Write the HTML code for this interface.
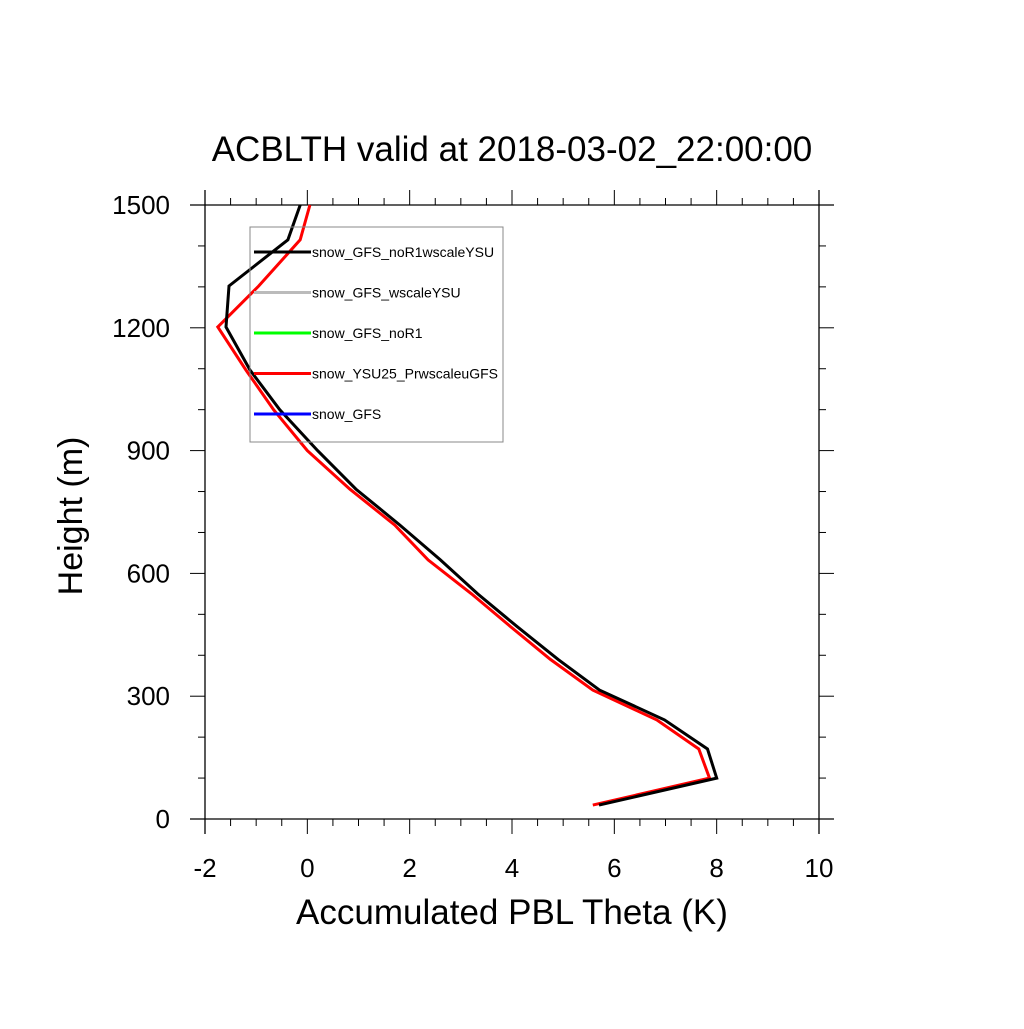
<!DOCTYPE html>
<html><head><meta charset="utf-8"><style>
body{margin:0;background:#fff}
svg text{font-family:"Liberation Sans",sans-serif}
</style></head><body>
<svg id="chart" width="1024" height="1024" xmlns="http://www.w3.org/2000/svg">
<rect width="1024" height="1024" fill="#fff"/>
<text x="512" y="161" font-size="35" text-anchor="middle">ACBLTH valid at 2018-03-02_22:00:00</text>
<text x="512" y="924" font-size="35" text-anchor="middle">Accumulated PBL Theta (K)</text>
<text transform="translate(82,516) rotate(-90)" font-size="34" text-anchor="middle">Height (m)</text>
<g id="axes"></g>
<g id="series"></g>
<g id="legend">
<rect x="250" y="227" width="253" height="215" fill="none" stroke="#888" stroke-width="1"/>
</g>
</svg>
<script>
const heights=[34,100,171,242,315,390,470,550,633,718,806,900,1000,1097,1202,1302,1415,1500];
const blackVals=[5.70,8.0,7.82,6.98,5.71,4.9,4.1,3.33,2.6,1.81,0.95,0.2,-0.54,-1.12,-1.59,-1.53,-0.38,-0.14];
const redVals=[5.58,7.86,7.65,6.83,5.58,4.75,3.97,3.21,2.36,1.71,0.83,0.0,-0.66,-1.2,-1.75,-0.95,-0.14,0.05];
const xTicks=[-2,0,2,4,6,8,10];
const yTicks=[0,300,600,900,1200,1500];
const seriesNames=["snow_GFS_noR1wscaleYSU","snow_GFS_wscaleYSU","snow_GFS_noR1","snow_YSU25_PrwscaleuGFS","snow_GFS"];
const seriesColors=["#000","#bbb","#0f0","#f00","#00f"];
const X0=205,X1=819,Y0=819,Y1=205;
const xs=v=>X0+(v+2)/12*(X1-X0);
const ys=v=>Y0-v/1500*(Y0-Y1);
const NS="http://www.w3.org/2000/svg";
function mk(t,a,p){const e=document.createElementNS(NS,t);for(const k in a)e.setAttribute(k,a[k]);p.appendChild(e);return e;}
const ax=document.getElementById('axes');
let f=mk('path',{d:`M${X0-15},${Y0}H${X1+15}M${X0-15},${Y1}H${X1+15}M${X0},${Y0+15}V${Y1-15}M${X1},${Y0+15}V${Y1-15}`,stroke:'#000','stroke-width':1.3,fill:'none'},ax);


for(let v=-2;v<=10.001;v+=0.5){const maj=Math.abs(v-Math.round(v/2)*2)<1e-6;const L=maj?15:7;const x=xs(v);
mk('line',{x1:x,x2:x,y1:Y0,y2:Y0+L,stroke:'#000','stroke-width':1},ax);
mk('line',{x1:x,x2:x,y1:Y1,y2:Y1-L,stroke:'#000','stroke-width':1},ax);}
for(let v=0;v<=1500;v+=100){const maj=v%300===0;const L=maj?15:7;const y=ys(v);
mk('line',{x1:X0,x2:X0-L,y1:y,y2:y,stroke:'#000','stroke-width':1},ax);
mk('line',{x1:X1,x2:X1+L,y1:y,y2:y,stroke:'#000','stroke-width':1},ax);}
xTicks.forEach(v=>{const t=mk('text',{x:xs(v),y:877,'font-size':26,'text-anchor':'middle'},ax);t.textContent=v;

});
yTicks.forEach(v=>{const t=mk('text',{x:170,y:ys(v)+9,'font-size':26,'text-anchor':'end'},ax);t.textContent=v;

});
const sg=document.getElementById('series');
function line(vals,color,name){const d=vals.map((v,i)=>(i?'L':'M')+xs(v).toFixed(1)+','+ys(heights[i]).toFixed(1)).join('');
const p=mk('path',{d:d,stroke:color,'stroke-width':3,fill:'none','stroke-linejoin':'miter'},sg);

}
line(redVals,'#f00','series-snow-ysu25-prwscaleugfs');
line(blackVals,'#000','series-snow-gfs-nor1wscaleysu');
const lg=document.getElementById('legend');
seriesNames.forEach((n,i)=>{const y=252+i*40.5;
const l=mk('line',{x1:254,x2:311,y1:y,y2:y,stroke:seriesColors[i],'stroke-width':3},lg);


const t=mk('text',{x:312,y:y+5,'font-size':14},lg);t.textContent=n;

});
</script>
</body></html>
